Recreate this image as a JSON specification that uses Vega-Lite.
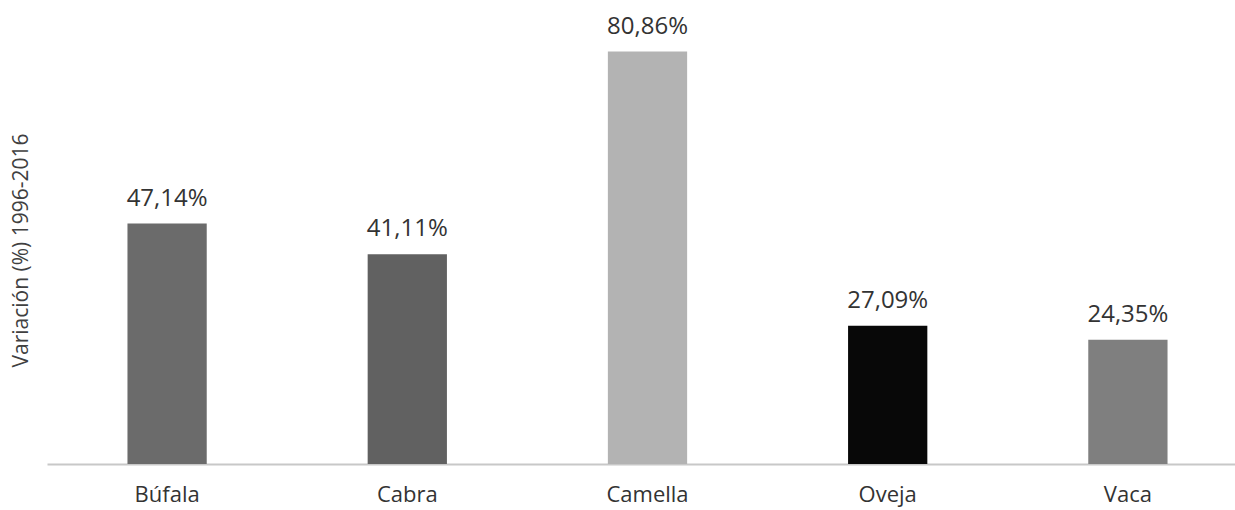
{
  "$schema": "https://vega.github.io/schema/vega-lite/v6.json",
  "width": 1201,
  "height": 459,
  "autosize": {"type": "none"},
  "padding": {"left": 47, "top": 5, "right": 0, "bottom": 46},
  "background": "white",
  "config": {"view": {"stroke": null}, "font": "Open Sans"},
  "data": {"values": [
    {"especie": "Búfala", "variacion": 47.14, "label": "47,14%", "color": "#6b6b6b"},
    {"especie": "Cabra", "variacion": 41.11, "label": "41,11%", "color": "#616161"},
    {"especie": "Camella", "variacion": 80.86, "label": "80,86%", "color": "#b3b3b3"},
    {"especie": "Oveja", "variacion": 27.09, "label": "27,09%", "color": "#080808"},
    {"especie": "Vaca", "variacion": 24.35, "label": "24,35%", "color": "#7f7f7f"}
  ]},
  "encoding": {
    "x": {"field": "especie", "type": "nominal", "sort": null,
      "scale": {"paddingInner": 0.67, "paddingOuter": 0.335},
      "axis": {"title": null, "labelAngle": 0, "labelFontSize": 22, "labelColor": "#333333", "labelFont": "Open Sans",
        "ticks": false, "domainColor": "#c8c8c8", "domainWidth": 2, "labelPadding": 20, "grid": false}},
    "y": {"field": "variacion", "type": "quantitative",
      "scale": {"domain": [0, 90], "nice": false},
      "axis": {"title": "Variación (%) 1996-2016", "labels": false, "ticks": false, "domain": false, "grid": false,
        "titleFontSize": 21, "titleFontWeight": "normal", "titleColor": "#404040", "titleFont": "Open Sans",
        "titleX": -26, "titleY": 245, "titleAngle": -90, "titleAlign": "center", "titleBaseline": "middle"}}
  },
  "layer": [
    {"mark": {"type": "bar"}, "encoding": {"color": {"field": "color", "type": "nominal", "scale": null}}},
    {"mark": {"type": "text", "baseline": "alphabetic", "dy": -18, "fontSize": 24, "color": "#333333", "font": "Open Sans"},
      "encoding": {"text": {"field": "label"}}}
  ]
}
